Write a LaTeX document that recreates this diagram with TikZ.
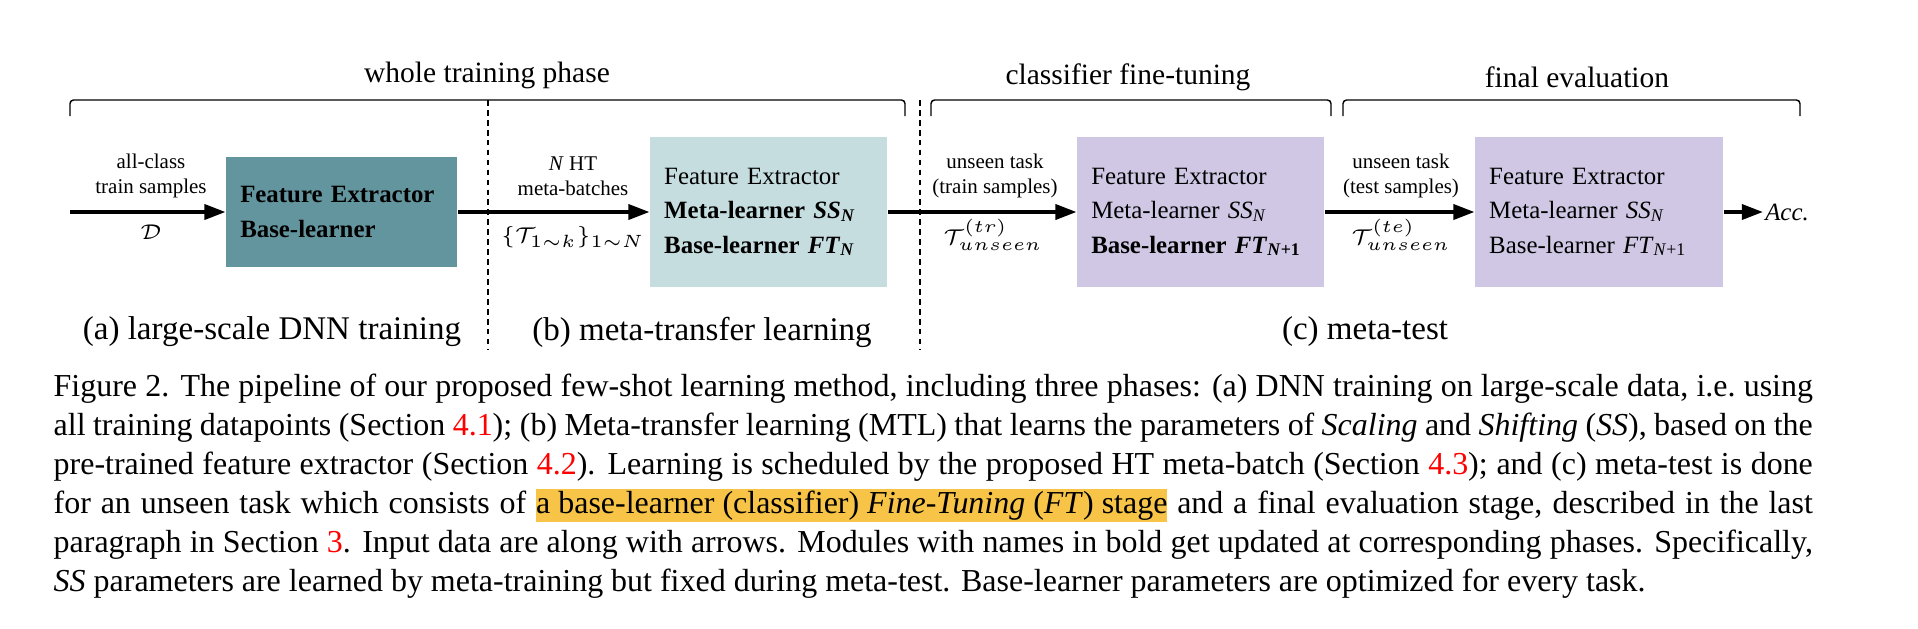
\documentclass[tikz,border=0pt]{standalone}
\usepackage{fontspec}
\setmainfont{Liberation Serif}
\usetikzlibrary{arrows.meta,positioning}

\definecolor{tealbox}{HTML}{63959E}
\definecolor{lightbox}{HTML}{C6DDE0}
\definecolor{lilacbox}{HTML}{CFC7E4}
\definecolor{hlyellow}{HTML}{F7C447}

% pedice piccolo tipo N, N+1
\newcommand{\lowsub}[1]{\raisebox{-0.7pt}{\fontsize{5}{5}\selectfont #1}}
% evidenziatore nella didascalia
\newcommand{\hlbox}[1]{{\setlength{\fboxsep}{0pt}\colorbox{hlyellow}{\rule[-2.5pt]{0pt}{9.5pt}#1}}}

\tikzset{
  stagebox/.style={inner xsep=4pt, inner ysep=0pt, align=left, font=\fontsize{7}{9.7}\selectfont},
  dataflow/.style={line width=0.85pt, -{Triangle[length=5.9pt,width=4.3pt]}},
  flowlbl/.style={align=center, inner sep=0pt, font=\fontsize{5.9}{7}\selectfont},
  phaselbl/.style={inner sep=0pt, font=\fontsize{9.3}{11}\selectfont},
  phasebrace/.style={line width=0.4pt, rounded corners=1pt},
  bracelbl/.style={inner sep=0pt, font=\fontsize{8.3}{10}\selectfont},
  divider/.style={line width=0.35pt, dash pattern=on 1.6pt off 1.2pt},
}

\begin{document}
\begin{tikzpicture}[x=0.2815pt, y=-0.2815pt]
    \useasboundingbox (0,0) rectangle (1918,628);

    % parentesi delle fasi
    \draw[phasebrace] (70,116) -- (70,100) -- (905,100) -- (905,116);
    \draw[phasebrace] (931,116) -- (931,100) -- (1331,100) -- (1331,116);
    \draw[phasebrace] (1343,116) -- (1343,100) -- (1800,100) -- (1800,116);
    \node[bracelbl] (whole) at (487,75) {whole training phase};
    \node[bracelbl] (cft) at (1128,77) {classifier fine-tuning};
    \node[bracelbl] (feval) at (1577,77) {final evaluation};

    % separatori tratteggiati
    \draw[divider] (488,100) -- (488,349);
    \draw[divider] (920,100) -- (920,349);

    % blocchi
    \node[stagebox, fill=tealbox, minimum width=65pt, minimum height=30.7pt, text width=57pt] (fe) at (341.5,212)
        {\textbf{Feature Extractor}\\\textbf{Base-learner}};
    \node[stagebox, fill=lightbox, minimum width=66.7pt, minimum height=42.2pt, text width=58.7pt] (mtl) at (768.5,212)
        {Feature Extractor\\\textbf{Meta-learner \textit{SS}\lowsub{\textit{N}}}\\\textbf{Base-learner \textit{FT}\lowsub{\textit{N}}}};
    \node[stagebox, fill=lilacbox, minimum width=69.5pt, minimum height=42.2pt, text width=61.5pt] (ft) at (1200.5,212)
        {Feature Extractor\\Meta-learner \textit{SS}\lowsub{\textit{N}}\\\textbf{Base-learner \textit{FT}\lowsub{\textit{N}+1}}};
    \node[stagebox, fill=lilacbox, minimum width=69.8pt, minimum height=42.2pt, text width=61.8pt] (ev) at (1599,212)
        {Feature Extractor\\Meta-learner \textit{SS}\lowsub{\textit{N}}\\Base-learner \textit{FT}\lowsub{\textit{N}+1}};
    \node[right=11pt of ev, inner sep=0.5pt, font=\fontsize{7}{8}\selectfont] (acc) {\textit{Acc.}};

    % frecce dei dati
    \coordinate (src) at (70,212);
    \draw[dataflow] (src) -- (fe);
    \draw[dataflow] (fe) -- (mtl);
    \draw[dataflow] (mtl) -- (ft);
    \draw[dataflow] (ft) -- (ev);
    \draw[dataflow] (ev) -- (acc);

    % etichette sulle frecce
    \node[flowlbl] (inA) at (151,176) {all-class\\train samples};
    \node[flowlbl] (symA) at (151,232) {$\mathcal{D}$};
    \node[flowlbl] (inB) at (573,176) {\textit{N} HT\\meta-batches};
    \node[flowlbl] (symB) at (573,237) {$\{\mathcal{T}_{1\sim k}\}_{1\sim N}$};
    \node[flowlbl] (inC) at (995,176) {unseen task\\(train samples)};
    \node[flowlbl] (symC) at (993,235) {$\mathcal{T}^{(tr)}_{unseen}$};
    \node[flowlbl] (inD) at (1401,176) {unseen task\\(test samples)};
    \node[flowlbl] (symD) at (1401,235) {$\mathcal{T}^{(te)}_{unseen}$};

    % nomi delle fasi
    \node[phaselbl] (pa) at (272,332) {(a) large-scale DNN training};
    \node[phaselbl] (pb) at (702,332) {(b) meta-transfer learning};
    \node[phaselbl] (pc) at (1365,332) {(c) meta-test};

    % didascalia
    \node[anchor=north west, inner sep=0pt, text width=495.2pt, align=justify, font=\fontsize{9}{11}\selectfont] (cap) at (53,373)
        {Figure 2. The pipeline of our proposed few-shot learning method, including three phases: (a) DNN training on large-scale data, i.e.\ using\linebreak
        all training datapoints (Section \textcolor{red}{4.1}); (b) Meta-transfer learning (MTL) that learns the parameters of \textit{Scaling} and \textit{Shifting} (\textit{SS}), based on the\linebreak
        pre-trained feature extractor (Section \textcolor{red}{4.2}). Learning is scheduled by the proposed HT meta-batch (Section \textcolor{red}{4.3}); and (c) meta-test is done\linebreak
        for an unseen task which consists of \hlbox{a base-learner (classifier) \textit{Fine-Tuning} (\textit{FT}) stage} and a final evaluation stage, described in the last\linebreak
        paragraph in Section \textcolor{red}{3}. Input data are along with arrows. Modules with names in bold get updated at corresponding phases. Specifically,\linebreak
        \textit{SS} parameters are learned by meta-training but fixed during meta-test. Base-learner parameters are optimized for every task.};
\end{tikzpicture}
\end{document}
